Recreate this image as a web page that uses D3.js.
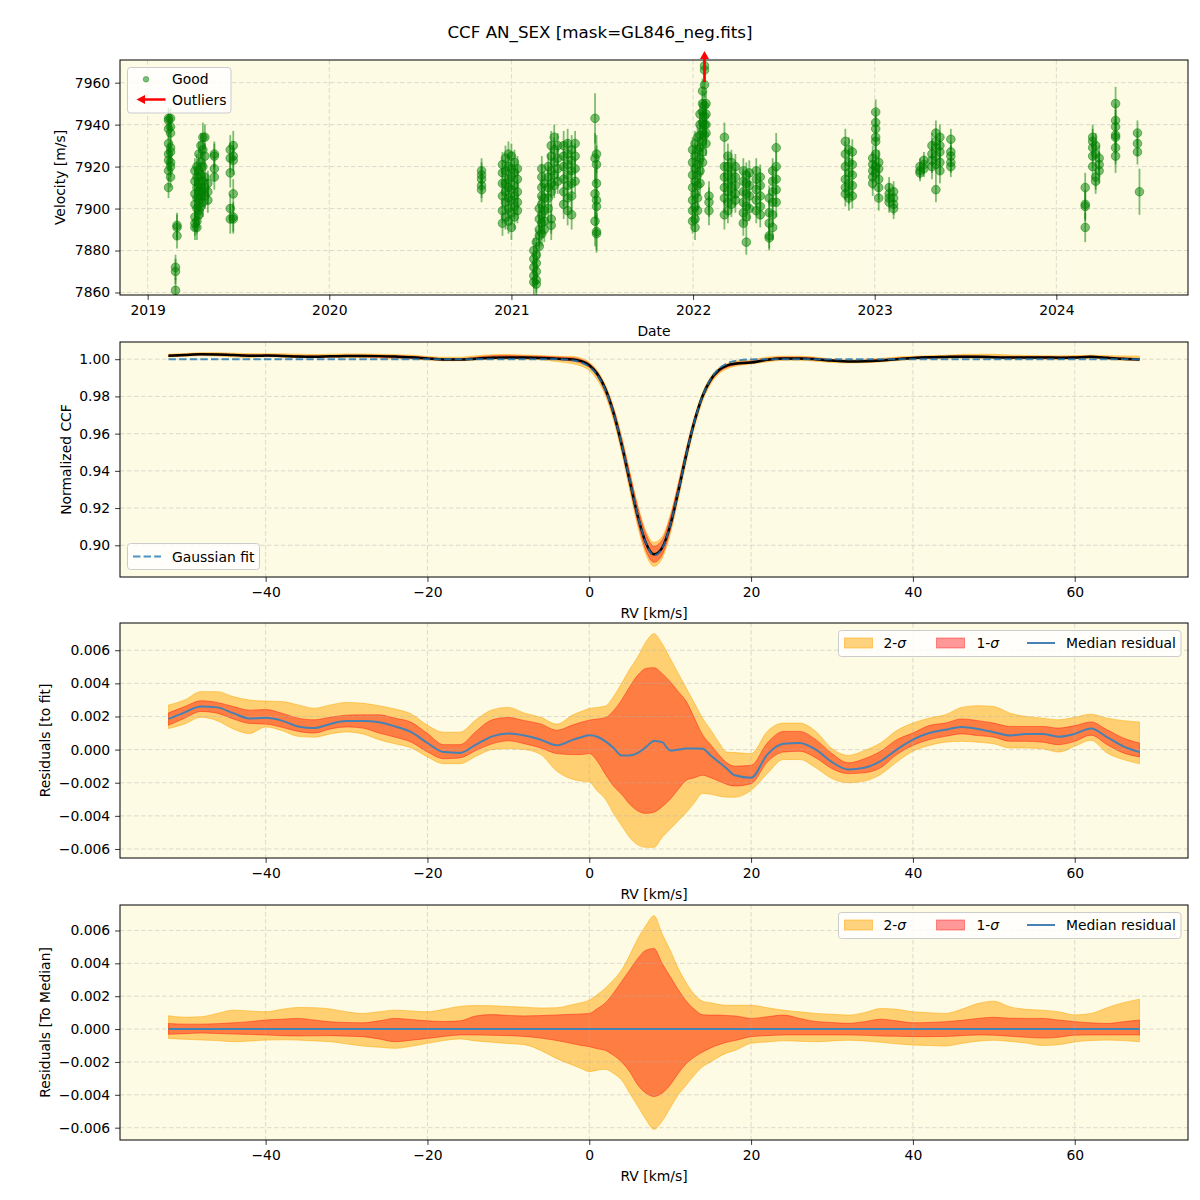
<!DOCTYPE html>
<html lang="en">
<head>
<meta charset="utf-8">
<title>CCF AN_SEX</title>
<script src="https://cdn.jsdelivr.net/npm/d3@7"></script>
<style>
  body { margin: 0; background: #ffffff; }
  svg text { font-family: "DejaVu Sans", sans-serif; font-size: 13.9px; fill: #000; }
</style>
</head>
<body>
<div id="chart"></div>
<script>
// ---- velocities, one entry per night ----
const rvNights = ["2019-02-12","2019-02-16","2019-02-26","2019-03-01","2019-04-06","2019-04-10","2019-04-14",
  "2019-04-18","2019-04-22","2019-04-26","2019-05-02","2019-05-15","2019-06-16","2019-06-22","2020-11-02",
  "2020-12-14","2020-12-20","2020-12-26","2021-01-01","2021-01-07","2021-01-13","2021-02-15","2021-02-20",
  "2021-02-26","2021-03-03","2021-03-08","2021-03-16","2021-03-22","2021-03-28","2021-04-04","2021-04-16",
  "2021-04-24","2021-05-02","2021-05-09","2021-06-18","2021-06-21","2021-12-31","2022-01-05","2022-01-10",
  "2022-01-15","2022-01-20","2022-01-24","2022-01-27","2022-02-02","2022-03-05","2022-03-12","2022-03-19",
  "2022-03-27","2022-04-12","2022-04-18","2022-04-24","2022-05-08","2022-05-16","2022-06-03","2022-06-10",
  "2022-06-17","2022-11-03","2022-11-10","2022-11-17","2022-12-28","2023-01-03","2023-01-09","2023-01-30",
  "2023-02-08","2023-04-02","2023-04-10","2023-04-26","2023-05-04","2023-05-12","2023-06-03","2024-02-28",
  "2024-03-14","2024-03-20","2024-03-27","2024-04-29","2024-06-12","2024-06-16"];
const rvValues = [
  [7943,7942,7938,7931,7926,7923,7918,7910],[7943,7939,7936,7929,7927,7922,7920,7915],[7872,7870,7861],[7892,7891,7887],
  [7918,7913,7907,7902,7896,7893,7891],[7920,7915,7910,7905,7900,7894,7891],[7926,7918,7912,7908,7904,7899,7897],
  [7930,7922,7916,7910,7906,7901],[7934,7928,7920,7913,7908,7903],[7934,7925,7915,7910,7906],[7912,7908,7904],
  [7926,7925,7919,7915],[7928,7924,7917,7900,7895],[7930,7925,7923,7907,7896,7895],[7918,7916,7914,7911,7909],
  [7921,7917,7912,7906,7899,7893],[7924,7918,7912,7908,7903,7896],[7926,7920,7914,7910,7905,7900,7894],
  [7925,7919,7915,7909,7904,7898,7891],[7922,7917,7911,7906,7901,7896],[7919,7914,7908,7903,7899],
  [7880,7876,7872,7868,7865],[7884,7878,7874,7870,7866,7864],[7900,7895,7890,7887,7882],
  [7919,7915,7910,7906,7902,7897,7893,7888],[7912,7905,7899,7894,7890],[7920,7915,7910,7905,7900],
  [7930,7925,7918,7912,7908,7895,7892],[7934,7928,7922,7916,7911],[7930,7924,7919,7913],
  [7930,7925,7920,7914,7908,7902],[7931,7926,7921,7916,7911,7905,7899],[7928,7923,7918,7912,7906,7897],
  [7931,7925,7919,7913],[7943,7924,7907,7894],[7926,7921,7912,7904,7901,7889,7888],
  [7928,7922,7916,7910,7904,7899,7894],[7931,7925,7919,7913,7907,7901,7895,7891],[7934,7928,7921,7916,7911,7905,7899],
  [7945,7940,7935,7929,7924,7918,7912],[7956,7950,7946,7941,7937,7932,7927,7922],[7968,7966,7959,7949,7944,7940,7935],
  [7950,7945,7940,7936,7931],[7906,7903,7899],[7934,7920,7915,7910,7905,7897],[7925,7920,7916,7912,7908,7903,7899],
  [7922,7918,7914,7910,7906,7902],[7920,7915,7911,7907,7904],[7918,7913,7908,7903,7898,7893],
  [7916,7912,7907,7901,7896,7884],[7917,7911,7906,7900],[7918,7914,7909,7904,7899],[7915,7911,7906,7901,7897],
  [7905,7898,7893,7887,7886],[7918,7913,7908,7903,7897,7891],[7929,7920,7914,7909,7903],
  [7932,7926,7920,7914,7910,7907],[7928,7922,7917,7912,7908,7905],[7927,7921,7916,7911,7906],
  [7924,7921,7918,7915,7912],[7946,7941,7938,7934,7932,7926,7920,7917],[7922,7919,7914,7910,7905],
  [7910,7907,7905,7903],[7908,7905,7902,7900],[7918,7917,7920],[7923,7921,7919],[7930,7926,7923,7920],
  [7936,7932,7929,7925,7921,7909],[7934,7930,7927,7922,7918],[7933,7927,7925,7922,7920],[7910,7902,7901,7891],
  [7934,7932,7929,7925,7920],[7930,7926,7915,7913],[7924,7921,7918],[7950,7942,7939,7935,7934,7929,7925],
  [7936,7931,7927],[7908]];
const rvErrors = [5,5,6,6,6,6,6,6,7,6,6,6,7,7,6,6,6,6,6,6,6,6,6,6,6,6,6,7,6,6,7,7,7,6,12,9,6,6,6,6,6,6,6,7,7,6,6,6,
  6,6,6,6,6,6,6,7,6,6,6,6,6,6,5,5,4,4,6,6,6,5,7,6,6,6,8,6,11];
const outlierDates = ["2022-01-24"];
const velLimits = [7858.8, 7970.8];

// ---- CCF grid [km/s] ----
const rvGrid = [-52,-50,-48,-46,-44,-42,-40,-38,-36,-34,-32,-30,-28,-26,-24,-22,-20,-18,-16,-14,-12,-10,-8,-6,-4,-2,
  -1,0,1,2,3,4,5,6,7,8,9,10,11,12,13,14,15,16,17,18,
  20,22,24,26,28,30,32,34,36,38,40,42,44,46,48,50,52,54,56,58,60,62,64,66,68];
const ccfMedian = [1.00185,1.00225,1.0026,1.00255,1.0022,1.00188,1.00192,1.00175,1.0014,1.0013,1.00155,1.00172,1.00172,
  1.00165,1.0014,1.00105,1.0004,0.99985,0.9998,1.0003,1.0008,1.00097,1.00085,1.0006,1.00026,0.9999,
  0.99895,0.99677,0.99208,0.9839,0.9712,0.95415,0.93465,0.9156,0.90125,0.89512,0.89865,0.91065,0.929,0.94886,
  0.96656,0.98025,0.98897,0.99405,0.99655,0.99755,
  0.9982,0.9997,1.00035,1.0004,1.0,0.99925,0.9988,0.9989,0.9993,1.0,1.0006,1.001,1.0012,1.00137,1.00125,1.00105,
  1.00085,1.00095,1.00095,1.00078,1.00095,1.00127,1.00075,1.0002,0.99986];
const ccfGauss = [1,1,1,1,1,1,1,1,1,1,1,1,1,1,1,1,1,1,1,1,1,1,1,1,1,0.9993,
  0.9982,0.9959,0.9913,0.9834,0.9711,0.9545,0.9350,0.9158,0.9011,0.8946,0.8982,0.9107,0.9290,0.9488,0.9665,0.9802,
  0.9893,0.9948,0.9977,0.9991,
  0.9999,1,1,1,1,1,1,1,1,1,1,1,1,1,1,1,1,1,1,1,1,1,1,1,1];

// residuals to fit, in units of 1e-3
const fitMed = [1.85,2.25,2.6,2.55,2.2,1.88,1.92,1.75,1.4,1.3,1.55,1.72,1.72,1.65,1.4,1.05,0.4,-0.15,-0.2,0.3,0.8,0.97,0.85,0.6,0.26,0.6,
  0.75,0.87,0.78,0.5,0.1,-0.35,-0.35,-0.2,0.15,0.52,0.45,-0.05,0.0,0.06,0.06,0.05,-0.35,-0.75,-1.15,-1.55,
  -1.7,-0.3,0.35,0.4,0.0,-0.75,-1.2,-1.1,-0.7,0.0,0.6,1.0,1.2,1.37,1.25,1.05,0.85,0.95,0.95,0.78,0.95,1.27,0.75,0.2,-0.14];
const fitLo1 = [1.47,1.9,2.3,2.2,1.85,1.58,1.54,1.35,1.1,1.0,1.25,1.37,1.3,1.0,0.75,0.45,-0.14,-0.55,-0.5,-0.05,0.35,0.53,0.35,0.1,-0.24,-0.3,
  -0.3,-0.24,-0.7,-1.5,-2.2,-2.7,-3.3,-3.7,-3.85,-3.78,-3.45,-3.0,-2.4,-1.85,-1.7,-1.55,-1.7,-1.9,-2.1,-2.2,
  -2.06,-0.75,-0.15,-0.1,-0.5,-1.15,-1.45,-1.4,-1.1,-0.3,0.25,0.6,0.8,0.95,0.85,0.75,0.5,0.5,0.45,0.3,0.5,0.87,0.3,-0.2,-0.44];
const fitHi1 = [2.22,2.6,2.95,2.85,2.6,2.38,2.42,2.2,1.9,1.8,1.95,2.08,2.1,2.1,1.9,1.65,0.97,0.3,0.3,1.1,1.8,1.94,1.75,1.55,1.17,1.5,
  1.65,1.78,1.85,1.93,2.35,3.0,3.8,4.5,4.9,4.95,4.6,4.1,3.5,2.9,1.9,0.9,0.3,-0.3,-0.8,-1.0,
  -0.95,0.4,1.1,1.1,0.6,-0.24,-0.8,-0.55,-0.1,0.6,1.0,1.45,1.6,1.85,1.75,1.6,1.4,1.4,1.4,1.3,1.45,1.67,1.2,0.7,0.4];
const fitLo2 = [1.27,1.55,1.95,1.75,1.25,0.97,1.37,1.15,0.8,0.75,0.95,1.07,0.95,0.6,0.35,0.1,-0.44,-0.85,-0.85,-0.4,0.0,0.06,0.0,-0.3,-1.3,-1.8,
  -1.9,-1.96,-2.5,-3.0,-3.85,-4.6,-5.3,-5.75,-5.9,-5.9,-5.3,-4.8,-4.3,-3.8,-3.2,-2.65,-2.7,-2.8,-2.87,-2.87,
  -2.46,-1.45,-0.6,-0.6,-1.1,-1.75,-2.0,-1.9,-1.5,-0.75,-0.1,0.25,0.45,0.5,0.45,0.35,0.1,0.1,0.05,-0.15,0.2,0.56,-0.2,-0.6,-0.85];
const fitHi2 = [2.69,3.0,3.5,3.5,3.2,2.99,2.93,2.9,2.7,2.5,2.7,2.85,2.8,2.65,2.45,2.15,1.47,1.05,1.05,1.8,2.4,2.55,2.2,1.95,1.54,2.1,
  2.3,2.48,2.55,2.63,3.2,4.0,4.85,5.6,6.5,7.0,6.4,5.5,4.6,3.7,2.8,1.9,1.2,0.45,-0.15,-0.18,
  -0.24,1.1,1.6,1.6,1.1,0.06,-0.35,-0.05,0.4,1.15,1.6,1.9,2.1,2.55,2.65,2.6,2.2,2.0,1.9,1.8,1.95,2.14,1.9,1.75,1.67];

// residuals to median, in units of 1e-3
const medLo1 = [-0.32,-0.28,-0.24,-0.27,-0.3,-0.33,-0.36,-0.4,-0.42,-0.41,-0.4,-0.43,-0.46,-0.6,-0.77,-0.68,-0.57,-0.45,-0.36,-0.36,-0.38,-0.4,-0.45,-0.55,-0.7,-0.9,
  -1.0,-1.07,-1.2,-1.3,-1.6,-2.0,-2.6,-3.4,-3.9,-4.1,-3.9,-3.4,-2.7,-2.1,-1.7,-1.4,-1.15,-0.95,-0.8,-0.7,
  -0.46,-0.4,-0.36,-0.36,-0.36,-0.36,-0.36,-0.38,-0.42,-0.44,-0.46,-0.46,-0.45,-0.4,-0.36,-0.37,-0.44,-0.5,-0.55,-0.5,-0.37,-0.36,-0.36,-0.36,-0.36];
const medHi1 = [0.34,0.3,0.3,0.33,0.38,0.45,0.55,0.6,0.65,0.55,0.44,0.4,0.38,0.5,0.65,0.58,0.5,0.46,0.5,0.8,0.88,0.83,0.8,0.82,0.86,0.9,
  0.92,0.95,1.25,1.6,2.2,2.9,3.6,4.3,4.8,4.9,4.0,3.2,2.4,1.7,1.2,0.87,0.85,0.85,0.82,0.8,
  0.65,0.75,0.85,0.65,0.46,0.4,0.35,0.45,0.6,0.5,0.38,0.4,0.45,0.53,0.65,0.72,0.66,0.65,0.65,0.55,0.45,0.38,0.34,0.45,0.55];
const medLo2 = [-0.57,-0.62,-0.66,-0.7,-0.77,-0.73,-0.67,-0.65,-0.67,-0.72,-0.77,-0.9,-1.03,-1.1,-1.17,-1.05,-0.87,-0.7,-0.6,-0.72,-0.8,-0.88,-0.95,-1.3,-1.8,-2.2,
  -2.4,-2.59,-2.5,-2.45,-2.7,-3.1,-3.9,-4.7,-5.5,-6.1,-5.6,-4.8,-4.0,-3.4,-2.8,-2.3,-2.0,-1.7,-1.45,-1.3,
  -0.87,-0.78,-0.71,-0.74,-0.77,-0.72,-0.68,-0.72,-0.8,-0.9,-0.97,-1.0,-1.03,-0.88,-0.74,-0.68,-0.75,-0.85,-1.0,-0.95,-0.78,-0.7,-0.67,-0.7,-0.77];
const medHi2 = [0.81,0.72,0.75,0.95,1.15,1.1,1.05,1.2,1.31,1.3,1.22,1.05,0.95,1.05,1.15,1.1,1.05,1.2,1.38,1.43,1.42,1.37,1.33,1.28,1.3,1.5,
  1.6,1.76,2.1,2.5,3.0,3.6,4.5,5.5,6.3,6.9,5.8,4.8,3.7,2.8,2.1,1.7,1.6,1.5,1.45,1.45,
  1.45,1.3,1.15,1.05,0.95,0.9,0.85,1.0,1.25,1.2,1.05,1.0,0.95,1.2,1.55,1.7,1.35,1.2,1.15,1.05,0.86,0.95,1.3,1.6,1.82];
const medMed = rvGrid.map(() => 0);

// ---- layout ----
const W = 1200, H = 1200;
const left = 120, right = 1188, ph = 235;
const tops = [60, 342, 623, 905];
const bgColor = "#fdfbe3";
const E3 = 1e-3;

const svg = d3.select("#chart").append("svg").attr("width", W).attr("height", H);
svg.append("rect").attr("width", W).attr("height", H).attr("fill", "#fff");

svg.append("text").attr("x", 600).attr("y", 38).attr("text-anchor", "middle")
  .style("font-size", "16.7px").text("CCF AN_SEX [mask=GL846_neg.fits]");

function padded(ext) {
  const d = (ext[1] - ext[0]) * 0.05;
  return [ext[0] - d, ext[1] + d];
}

function makePanel(i, x, y, xTicks, xFmt, yFmt, ylabel, ylabelX, xlabel) {
  const top = tops[i];
  const clipId = "clip" + i;
  svg.append("clipPath").attr("id", clipId).append("rect")
    .attr("x", left).attr("y", top).attr("width", right - left).attr("height", ph);
  const g = svg.append("g");
  g.append("rect").attr("x", left).attr("y", top).attr("width", right - left).attr("height", ph).attr("fill", bgColor);
  const under = g.append("g").attr("clip-path", `url(#${clipId})`);
  const grid = g.append("g");
  const over = g.append("g").attr("clip-path", `url(#${clipId})`);
  const deco = g.append("g");

  grid.selectAll("line.gx").data(xTicks).join("line").attr("class", "gx")
    .attr("x1", d => x(d)).attr("x2", d => x(d)).attr("y1", top).attr("y2", top + ph);
  grid.selectAll("line.gy").data(y.ticks(6)).join("line").attr("class", "gy")
    .attr("x1", left).attr("x2", right).attr("y1", d => y(d)).attr("y2", d => y(d));
  grid.selectAll("line").attr("stroke", "#b0b0b0").attr("stroke-opacity", 0.55)
    .attr("stroke-width", 0.8).attr("stroke-dasharray", "4.5,2.5");

  const xa = deco.append("g").attr("transform", `translate(0,${top + ph})`)
    .call(d3.axisBottom(x).tickValues(xTicks).tickFormat(xFmt).tickSize(4.9).tickPadding(4.9).tickSizeOuter(0));
  const ya = deco.append("g").attr("transform", `translate(${left},0)`)
    .call(d3.axisLeft(y).ticks(6).tickFormat(yFmt).tickSize(4.9).tickPadding(4.9).tickSizeOuter(0));
  [xa, ya].forEach(a => {
    a.select(".domain").remove();
    a.attr("font-family", null).attr("font-size", null);
    a.selectAll("line").attr("stroke", "#000").attr("stroke-width", 0.8);
  });
  deco.append("rect").attr("x", left).attr("y", top).attr("width", right - left).attr("height", ph)
    .attr("fill", "none").attr("stroke", "#000").attr("stroke-width", 1);

  deco.append("text").attr("x", (left + right) / 2).attr("y", top + ph + 41)
    .attr("text-anchor", "middle").text(xlabel);
  deco.append("text").attr("transform", `translate(${ylabelX},${top + ph / 2}) rotate(-90)`)
    .attr("text-anchor", "middle").text(ylabel);
  return { under, over, deco, top };
}

// ---- panel 1 : velocities ----
const parseDay = d3.utcParse("%Y-%m-%d");
const rvPoints = rvNights.flatMap((d, i) => rvValues[i].map(v => ({ t: parseDay(d), v: v, e: rvErrors[i] })));
const tExt = d3.extent(rvNights.concat(outlierDates).map(parseDay));
const tPad = (tExt[1] - tExt[0]) * 0.05;
const xDate = d3.scaleUtc().domain([new Date(+tExt[0] - tPad), new Date(+tExt[1] + tPad)]).range([left, right]);
const yVel = d3.scaleLinear().domain(velLimits).range([tops[0] + ph, tops[0]]);
const yearTicks = xDate.ticks(d3.utcYear.every(1));

const p1 = makePanel(0, xDate, yVel, yearTicks, d3.utcFormat("%Y"), d3.format("d"), "Velocity [m/s]", 65, "Date");

p1.over.selectAll("line.eb").data(rvPoints).join("line").attr("class", "eb")
  .attr("x1", d => xDate(d.t)).attr("x2", d => xDate(d.t))
  .attr("y1", d => yVel(d.v - d.e)).attr("y2", d => yVel(d.v + d.e))
  .attr("stroke", "green").attr("stroke-opacity", 0.5).attr("stroke-width", 1.8);
p1.over.selectAll("circle").data(rvPoints).join("circle")
  .attr("cx", d => xDate(d.t)).attr("cy", d => yVel(d.v)).attr("r", 4.3)
  .attr("fill", "green").attr("fill-opacity", 0.5)
  .attr("stroke", "green").attr("stroke-opacity", 0.5).attr("stroke-width", 1);

outlierDates.forEach(d => {
  const ax = xDate(parseDay(d)), t = p1.top;
  p1.deco.append("line").attr("x1", ax).attr("x2", ax).attr("y1", t + 22).attr("y2", t - 2)
    .attr("stroke", "red").attr("stroke-width", 2.5);
  p1.deco.append("path").attr("d", `M${ax - 4.5},${t - 1}L${ax + 4.5},${t - 1}L${ax},${t - 9}Z`).attr("fill", "red");
});

{
  const lg = p1.deco.append("g");
  lg.append("rect").attr("x", 127.5).attr("y", 67.5).attr("width", 103.5).attr("height", 45.5).attr("rx", 3)
    .attr("fill", "#fff").attr("fill-opacity", 0.8).attr("stroke", "#cccccc").attr("stroke-width", 1);
  lg.append("circle").attr("cx", 146).attr("cy", 79.3).attr("r", 2.8)
    .attr("fill", "green").attr("fill-opacity", 0.5).attr("stroke", "green").attr("stroke-opacity", 0.5).attr("stroke-width", 0.8);
  lg.append("text").attr("x", 172).attr("y", 84).text("Good");
  lg.append("line").attr("x1", 143).attr("x2", 165.5).attr("y1", 99.5).attr("y2", 99.5)
    .attr("stroke", "red").attr("stroke-width", 2.5);
  lg.append("path").attr("d", "M136.5,99.5L145,95L145,104Z").attr("fill", "red");
  lg.append("text").attr("x", 172).attr("y", 104.5).text("Outliers");
}

// ---- panels 2-4 : CCF and residuals ----
const xRV = d3.scaleLinear().domain(padded(d3.extent(rvGrid))).range([left, right]);
const rvTicks = xRV.ticks(6);

const ccfRows = rvGrid.map((v, j) => ({
  v, med: ccfMedian[j], fit: ccfGauss[j],
  lo1: ccfGauss[j] + fitLo1[j] * E3, hi1: ccfGauss[j] + fitHi1[j] * E3,
  lo2: ccfGauss[j] + fitLo2[j] * E3, hi2: ccfGauss[j] + fitHi2[j] * E3
}));
const fitRows = rvGrid.map((v, j) => ({
  v, med: fitMed[j] * E3, lo1: fitLo1[j] * E3, hi1: fitHi1[j] * E3, lo2: fitLo2[j] * E3, hi2: fitHi2[j] * E3
}));
const medRows = rvGrid.map((v, j) => ({
  v, med: medMed[j] * E3, lo1: medLo1[j] * E3, hi1: medHi1[j] * E3, lo2: medLo2[j] * E3, hi2: medHi2[j] * E3
}));

function yFor(rows, i) {
  const vals = rows.flatMap(d => [d.lo2, d.hi2, d.med].concat(d.fit !== undefined ? [d.fit] : []));
  return d3.scaleLinear().domain(padded(d3.extent(vals))).range([tops[i] + ph, tops[i]]);
}

function drawBands(layer, rows, y) {
  const a2 = d3.area().curve(d3.curveMonotoneX).x(d => xRV(d.v)).y0(d => y(d.lo2)).y1(d => y(d.hi2));
  const a1 = d3.area().curve(d3.curveMonotoneX).x(d => xRV(d.v)).y0(d => y(d.lo1)).y1(d => y(d.hi1));
  layer.append("path").attr("d", a2(rows)).attr("fill", "orange").attr("fill-opacity", 0.5)
    .attr("stroke", "orange").attr("stroke-opacity", 0.5).attr("stroke-width", 1);
  layer.append("path").attr("d", a1(rows)).attr("fill", "red").attr("fill-opacity", 0.4)
    .attr("stroke", "red").attr("stroke-opacity", 0.4).attr("stroke-width", 1);
}

function bandLegend(deco, top) {
  const y0 = top + 7.5;
  const lg = deco.append("g");
  lg.append("rect").attr("x", 838.5).attr("y", y0).attr("width", 342.5).attr("height", 26).attr("rx", 3)
    .attr("fill", "#fff").attr("fill-opacity", 0.8).attr("stroke", "#cccccc").attr("stroke-width", 1);
  lg.append("rect").attr("x", 844.5).attr("y", y0 + 7.5).attr("width", 28).attr("height", 10)
    .attr("fill", "orange").attr("fill-opacity", 0.5).attr("stroke", "orange").attr("stroke-opacity", 0.5);
  const t2 = lg.append("text").attr("x", 883.5).attr("y", y0 + 17.5);
  t2.append("tspan").text("2-");
  t2.append("tspan").attr("font-style", "italic").text("σ");
  lg.append("rect").attr("x", 936.5).attr("y", y0 + 7.5).attr("width", 28).attr("height", 10)
    .attr("fill", "red").attr("fill-opacity", 0.4).attr("stroke", "red").attr("stroke-opacity", 0.4);
  const t1 = lg.append("text").attr("x", 976.5).attr("y", y0 + 17.5);
  t1.append("tspan").text("1-");
  t1.append("tspan").attr("font-style", "italic").text("σ");
  lg.append("line").attr("x1", 1027).attr("x2", 1055).attr("y1", y0 + 12.5).attr("y2", y0 + 12.5)
    .attr("stroke", "#4682b4").attr("stroke-width", 2);
  lg.append("text").attr("x", 1066).attr("y", y0 + 17.5).text("Median residual");
}

// panel 2
const yCCF = yFor(ccfRows, 1);
const p2 = makePanel(1, xRV, yCCF, rvTicks, d3.format(".0f"), d3.format(".2f"), "Normalized CCF", 71, "RV [km/s]");
drawBands(p2.under, ccfRows, yCCF);
p2.over.append("path").attr("d", d3.line().curve(d3.curveMonotoneX).x(d => xRV(d.v)).y(d => yCCF(d.med))(ccfRows))
  .attr("fill", "none").attr("stroke", "#000").attr("stroke-width", 2.5);
p2.over.append("path").attr("d", d3.line().curve(d3.curveMonotoneX).x(d => xRV(d.v)).y(d => yCCF(d.fit))(ccfRows))
  .attr("fill", "none").attr("stroke", "#1f77b4").attr("stroke-opacity", 0.8).attr("stroke-width", 2)
  .attr("stroke-dasharray", "7.4,3.2");
{
  const lg = p2.deco.append("g");
  lg.append("rect").attr("x", 127.5).attr("y", 543.5).attr("width", 132).attr("height", 26).attr("rx", 3)
    .attr("fill", "#fff").attr("fill-opacity", 0.8).attr("stroke", "#cccccc").attr("stroke-width", 1);
  lg.append("line").attr("x1", 133).attr("x2", 161).attr("y1", 556.5).attr("y2", 556.5)
    .attr("stroke", "#1f77b4").attr("stroke-opacity", 0.8).attr("stroke-width", 2).attr("stroke-dasharray", "7.4,3.2");
  lg.append("text").attr("x", 172).attr("y", 561.5).text("Gaussian fit");
}

// panel 3
const yFit = yFor(fitRows, 2);
const p3 = makePanel(2, xRV, yFit, rvTicks, d3.format(".0f"), d3.format(".3f"), "Residuals [to fit]", 50, "RV [km/s]");
drawBands(p3.under, fitRows, yFit);
p3.over.append("path").attr("d", d3.line().curve(d3.curveMonotoneX).x(d => xRV(d.v)).y(d => yFit(d.med))(fitRows))
  .attr("fill", "none").attr("stroke", "#4682b4").attr("stroke-width", 2);
bandLegend(p3.deco, p3.top);

// panel 4
const yMed = yFor(medRows, 3);
const p4 = makePanel(3, xRV, yMed, rvTicks, d3.format(".0f"), d3.format(".3f"), "Residuals [To Median]", 50, "RV [km/s]");
drawBands(p4.under, medRows, yMed);
p4.over.append("path").attr("d", d3.line().x(d => xRV(d.v)).y(d => yMed(d.med))(medRows))
  .attr("fill", "none").attr("stroke", "#4682b4").attr("stroke-width", 2);
bandLegend(p4.deco, p4.top);
</script>
</body>
</html>
